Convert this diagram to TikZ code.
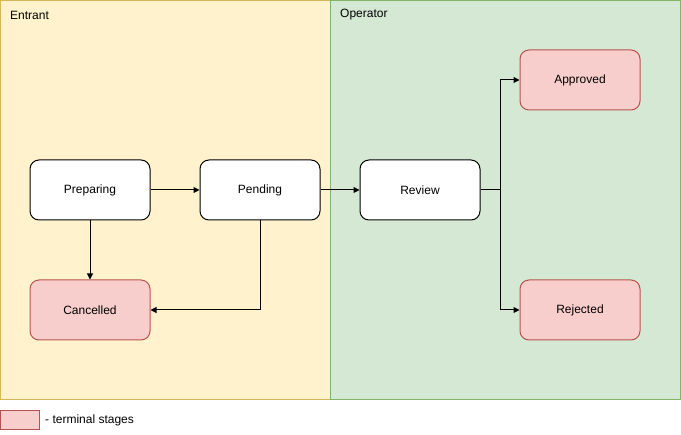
\documentclass[tikz,border=0pt]{standalone}
\usepackage{fontspec}
\setmainfont{Liberation Sans}
\usetikzlibrary{arrows.meta}
\definecolor{ylfill}{HTML}{FFF2CC}
\definecolor{ylline}{HTML}{D6B656}
\definecolor{grfill}{HTML}{D5E8D4}
\definecolor{grline}{HTML}{82B366}
\definecolor{rdfill}{HTML}{F8CECC}
\definecolor{rdline}{HTML}{B85450}
\begin{document}
\begin{tikzpicture}[x=1pt,y=-1pt,
  stage/.style={draw=black, fill=white, rounded corners=9pt, minimum width=120pt, minimum height=60pt, inner sep=0pt, font=\fontsize{12}{14}\selectfont, line width=1pt},
  terminal/.style={stage, draw=rdline, fill=rdfill},
  conn/.style={draw=black, line width=1pt, -{Triangle[length=6pt,width=6pt]}},
  lane/.style={line width=1pt},
  lbl/.style={anchor=west, inner sep=0pt, font=\fontsize{12}{14}\selectfont}]
\useasboundingbox (0,0) rectangle (681,435);
\draw[lane, draw=ylline, fill=ylfill] (0.5,0.5) rectangle (330,400);
\draw[lane, draw=grline, fill=grfill] (330,0.5) rectangle (680.5,400);
\node[lbl] (entrant) at (10,15) {Entrant};
\node[lbl] (operator) at (340,15) {Operator};
\node[stage] (prep) at (90,190) {Preparing};
\node[stage] (pend) at (260,190) {Pending};
\node[stage] (rev) at (420,190) {Review};
\node[terminal] (appr) at (580,80) {Approved};
\node[terminal] (rej) at (580,310) {Rejected};
\node[terminal] (canc) at (90,310) {Cancelled};
\draw[conn] (prep) -- (pend);
\draw[conn] (prep) -- (canc);
\draw[conn] (pend.south) |- (canc.east);
\draw[conn] (pend) -- (rev);
\coordinate (split) at (500,190);
\draw[conn] (rev.east) -- (split) |- (appr.west);
\draw[conn] (split) |- (rej.west);
\node[draw=rdline, fill=rdfill, line width=1pt, minimum width=39pt, minimum height=19pt, inner sep=0pt] (legend) at (20,420) {};
\node[lbl] (legtext) at (45,420) {- terminal stages};
\end{tikzpicture}
\end{document}
